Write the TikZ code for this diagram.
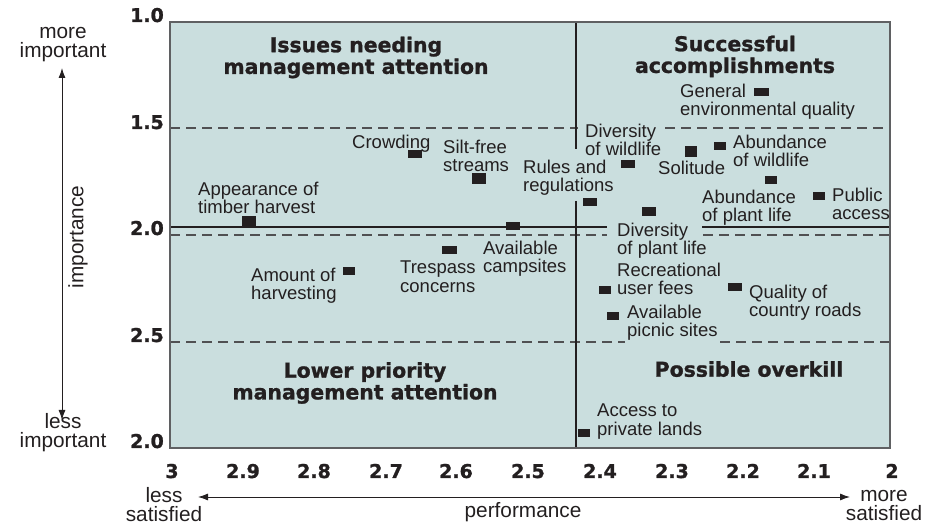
\documentclass[tikz,border=0pt]{standalone}
\usepackage{fontspec}
\setmainfont{Liberation Sans}
\newfontfamily\heavyfont{DejaVu Sans}[BoldFeatures={FakeBold=1.2}]
\usetikzlibrary{arrows.meta}

\definecolor{plotbg}{RGB}{202,222,222}
\definecolor{inkdark}{RGB}{35,31,32}
\definecolor{framegray}{RGB}{95,96,98}
\definecolor{dashgray}{RGB}{80,80,82}

\newcommand\lblfont{\fontsize{18.5}{18.3}\selectfont}
\newcommand\axisfont{\fontsize{20.8}{19.5}\selectfont}
\newcommand\quadfont{\heavyfont\bfseries\fontsize{20.4}{21.7}\selectfont}
\newcommand\tickfont{\heavyfont\bfseries\fontsize{19}{19}\selectfont}

\begin{document}
\begin{tikzpicture}[x=1pt, y=-1pt,
    sqmark/.style={fill=inkdark, inner sep=0pt},
    lbl/.style={font=\lblfont, text=inkdark, align=left, anchor=north west, inner sep=0pt},
    quadhead/.style={font=\quadfont, text=inkdark, align=center, anchor=north, inner sep=0pt},
    ticklbl/.style={font=\tickfont, text=inkdark, inner sep=0pt},
    axlbl/.style={font=\axisfont, text=inkdark, align=center, inner sep=0pt},
    gridline/.style={dashgray, line width=1.1pt, dash pattern=on 10pt off 6pt},
    meanline/.style={inkdark, line width=2.4pt},
    axarrow/.style={inkdark, line width=0.9pt, {Latex[length=10pt,width=7pt]}-{Latex[length=10pt,width=7pt]}}]
    \useasboundingbox (0,0) rectangle (943,526);

    % plot area (1 px = 1 pt, y grows downwards)
    \fill[plotbg] (170,22) rectangle (890,448);

    % importance levels 1.5, 2.0 and 2.5 (gaps left for labels)
    \draw[gridline] (170,128) -- (578,128);
    \draw[gridline] (665,128) -- (890,128);
    \draw[gridline] (170,235) -- (607,235);
    \draw[gridline] (703,235) -- (890,235);
    \draw[gridline] (170,342) -- (625,342);
    \draw[gridline] (720,342) -- (890,342);

    % mean lines
    \draw[meanline] (170,227) -- (607,227);
    \draw[meanline] (702,227) -- (890,227);
    \draw[meanline] (576,22) -- (576,149);
    \draw[meanline] (576,201) -- (576,448);

    \draw[framegray, line width=1.3pt] (170,22) rectangle (890,448);

    % quadrant headings
    \node[quadhead] (q-issues) at (356,36.5) {Issues needing\\management attention};
    \node[quadhead] (q-success) at (735,35.5) {Successful\\accomplishments};
    \node[quadhead] (q-lower) at (365,362) {Lower priority\\management attention};
    \node[quadhead] (q-overkill) at (749,361) {Possible overkill};

    % item labels
    \node[lbl] (l-timber) at (198,182) {Appearance of\\timber harvest};
    \node[lbl] (l-amount) at (251,268) {Amount of\\harvesting};
    \node[lbl] (l-trespass) at (400,261) {Trespass\\concerns};
    \node[lbl] (l-campsites) at (483,241) {Available\\campsites};
    \node[lbl] (l-crowding) at (352,135) {Crowding};
    \node[lbl] (l-siltfree) at (443,140) {Silt-free\\streams};
    \node[lbl] (l-rules) at (523,160) {Rules and\\regulations};
    \node[lbl] (l-divwild) at (585,124) {Diversity\\of wildlife};
    \node[lbl] (l-solitude) at (658,161) {Solitude};
    \node[lbl] (l-abwild) at (733,135) {Abundance\\of wildlife};
    \node[lbl] (l-general) at (680,84) {General\\environmental quality};
    \node[lbl] (l-abplant) at (702,190) {Abundance\\of plant life};
    \node[lbl] (l-public) at (832,188) {Public\\access};
    \node[lbl] (l-divplant) at (617,223) {Diversity\\of plant life};
    \node[lbl] (l-recfees) at (617,263) {Recreational\\user fees};
    \node[lbl] (l-picnic) at (627,305) {Available\\picnic sites};
    \node[lbl] (l-roads) at (749,285) {Quality of\\country roads};
    \node[lbl] (l-access) at (597,404) {Access to\\private lands};

    % item markers
    \foreach \n/\x/\y/\w/\h in {timber/249/221/14/10, amount/349/271/12/8,
        trespass/449/250/15/8, campsites/513/226/14/8, crowding/415/154/14/8,
        siltfree/479/179/14/11, rules/590/202/14/8, divwild/628/164/14/8,
        solitude/691/152/12/11, abwild/720/146/12/8, general/761/92/15/8,
        abplant/771/180/12/8, public/819/196/12/8, divplant/649/212/14/9,
        recfees/605/290/12/8, picnic/613/316/12/8, roads/735/287/14/8,
        access/584/433/12/8} {
        \node[sqmark, minimum width=\w pt, minimum height=\h pt] (m-\n) at (\x,\y) {};
    }

    % importance scale
    \foreach \v/\y [count=\k] in {1.0/22, 1.5/129, 2.0/235, 2.5/342, 2.0/448} {
        \node[ticklbl, anchor=base east] (yt-\k) at (164,\y) {\v};
    }
    % performance scale
    \foreach \v/\x [count=\k] in {3/172, 2.9/243, 2.8/314, 2.7/386, 2.6/456,
        2.5/528, 2.4/600, 2.3/672, 2.2/743, 2.1/814, 2/892} {
        \node[ticklbl, anchor=base] (xt-\k) at (\x,478) {\v};
    }

    % axis captions
    \node[axlbl, anchor=north] (more-imp) at (63,27) {more\\important};
    \node[axlbl, anchor=north] (less-imp) at (63,413) {less\\important};
    \node[axlbl, rotate=90] (imp) at (78,237) {importance};
    \node[axlbl, anchor=north] (less-sat) at (164,487) {less\\satisfied};
    \node[axlbl, anchor=north] (more-sat) at (884,490) {more\\satisfied};
    \node[axlbl, anchor=base] (perf) at (523,518) {performance};

    \coordinate (imp-top) at (62,68);
    \coordinate (imp-bot) at (62,420);
    \coordinate (perf-left) at (198,497);
    \coordinate (perf-right) at (850,497);
    \draw[axarrow] (imp-top) -- (imp-bot);
    \draw[axarrow] (perf-left) -- (perf-right);
\end{tikzpicture}
\end{document}
